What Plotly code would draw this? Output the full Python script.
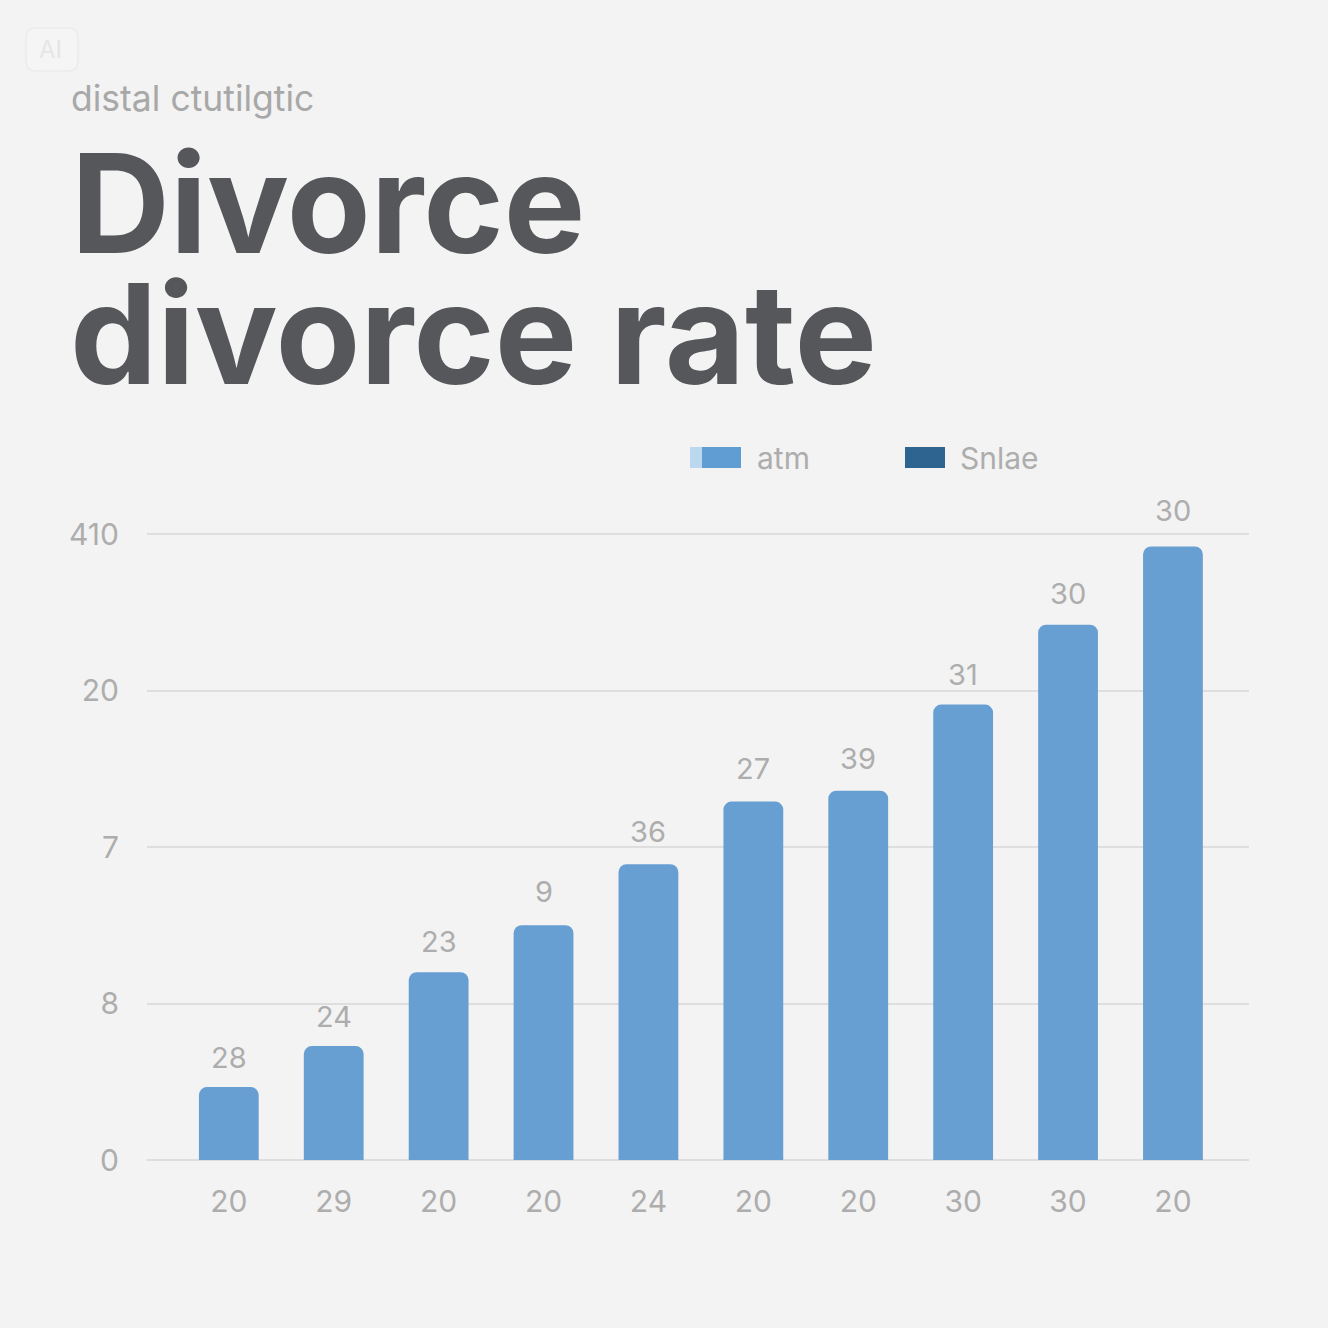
import plotly.graph_objects as go

# ---- data ----
x_positions = list(range(10))
x_labels = ["20", "29", "20", "20", "24", "20", "20", "30", "30", "20"]
bar_values = [0.466, 0.728, 1.20, 1.50, 1.89, 2.29, 2.36, 2.91, 3.42, 3.92]
bar_labels = ["28", "24", "23", "9", "36", "27", "39", "31", "30", "30"]
label_shifts = [30, 30, 31, 34, 33, 33, 32, 30, 31, 36]
y_positions = [0, 1, 2, 3, 4]
y_labels = ["0", "8", "7", "20", "410"]
legend_names = ["atm", "Snlae"]

# ---- style ----
W = H = 1328
BG = "#f3f3f3"
BAR = "#679fd2"
GRID = "#dedede"
TEXT = "#adadad"
FONT = "Inter"
Y_PAD = 0.02  # keeps the gridlines at both range ends visible
UNIT_PX = 156.5


def px(x):
    return x / W


def py(y):
    return 1 - y / H


fig = go.Figure()
fig.add_trace(go.Bar(
    x=x_positions, y=bar_values, name=legend_names[0], width=0.57,
    marker=dict(color=BAR, cornerradius=8, line=dict(width=0)),
    cliponaxis=False, showlegend=False, hoverinfo="x+y",
))

annotations = []
for xp, v, t, s in zip(x_positions, bar_values, bar_labels, label_shifts):
    annotations.append(dict(x=xp, y=v, xref="x", yref="y", text=t, showarrow=False,
                            yanchor="middle", yshift=s,
                            font=dict(family=FONT, size=29, color=TEXT)))


def text(x, y, t, size, color, weight=400):
    annotations.append(dict(x=px(x), y=py(y), xref="paper", yref="paper", text=t,
                            showarrow=False, xanchor="left", yanchor="middle",
                            font=dict(family=FONT, size=size, color=color, weight=weight)))


text(69, 98, "distal ctutilgtic", 35.5, "#a8a8a8")
text(69, 203, "Divorce", 137, "#55575a", 700)
text(68, 333, "divorce rate", 138.5, "#55575a", 700)
text(755, 458, legend_names[0], 30, TEXT)
text(958, 458, legend_names[1], 30, TEXT)
text(37, 49, "AI", 24, "#e6e6e6")


def rect(x0, y0, x1, y1, color):
    return dict(type="rect", xref="paper", yref="paper", x0=px(x0), x1=px(x1),
                y0=py(y1), y1=py(y0), fillcolor=color, line=dict(width=0), layer="below")


def rounded(x0, y0, x1, y1, r, fill, line):
    L, R, T, B = px(x0), px(x1), py(y0), py(y1)
    dx, dy = r / W, r / H
    path = (f"M{L+dx},{T} L{R-dx},{T} Q{R},{T} {R},{T-dy} L{R},{B+dy} Q{R},{B} {R-dx},{B} "
            f"L{L+dx},{B} Q{L},{B} {L},{B+dy} L{L},{T-dy} Q{L},{T} {L+dx},{T} Z")
    return dict(type="path", xref="paper", yref="paper", path=path, fillcolor=fill,
                line=dict(color=line, width=1.5), layer="below")


shapes = [
    rect(690, 447, 704, 468, "#bcd8ee"),
    rect(702, 447, 741, 468, "#5f9dd3"),
    rect(905, 447, 945, 468, "#2e6490"),
    rounded(26, 28, 78, 71, 10, "#f5f5f5", "#ebebeb"),
]

fig.update_layout(
    width=W, height=H, paper_bgcolor=BG, plot_bgcolor=BG,
    margin=dict(l=0, r=0, t=0, b=0), showlegend=False,
    annotations=annotations, shapes=shapes,
    xaxis=dict(domain=[px(147), px(1249)], range=[-0.78, 9.725], automargin=False,
               tickmode="array", tickvals=x_positions, ticktext=x_labels,
               showgrid=False, zeroline=False, showline=False, ticks="",
               ticklabelstandoff=18, tickfont=dict(family=FONT, size=30, color=TEXT)),
    yaxis=dict(domain=[py(1160 + Y_PAD * UNIT_PX), py(534 - Y_PAD * UNIT_PX)],
               range=[-Y_PAD, 4 + Y_PAD], automargin=False,
               tickmode="array", tickvals=y_positions, ticktext=y_labels,
               showgrid=True, gridcolor=GRID, gridwidth=1.5, zeroline=False, showline=False,
               ticks="", ticklabelstandoff=27, tickfont=dict(family=FONT, size=30, color=TEXT)),
)

fig.write_html("out.html", config=dict(displayModeBar=False),
               post_script="document.body.style.margin='0';document.body.style.overflow='hidden';")
